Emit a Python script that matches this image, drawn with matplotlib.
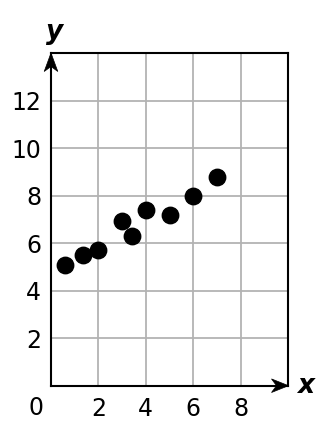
import matplotlib
matplotlib.use("Agg")
import matplotlib.pyplot as plt
from matplotlib.patches import Polygon
from matplotlib.transforms import ScaledTranslation

x_vals = [0.6, 1.35, 2.0, 3.0, 3.4, 4.0, 5.0, 6.0, 7.0]
y_vals = [5.1, 5.5, 5.7, 6.95, 6.3, 7.4, 7.2, 8.0, 8.8]
x_ticks = [2, 4, 6, 8]
y_ticks = [2, 4, 6, 8, 10, 12]
grid_x = [0, 2, 4, 6, 8, 10]
grid_y = [0, 2, 4, 6, 8, 10, 12, 14]

plt.rcParams['font.family'] = ['DejaVu Sans']

fig = plt.figure(figsize=(3.26, 4.30), dpi=100)
ax = fig.add_axes([51/326, (430-385.7)/430, 237/326, (385.7-53)/430])
ax.set_xlim(grid_x[0], grid_x[-1])
ax.set_ylim(grid_y[0], grid_y[-1])

for g in grid_x[1:-1]:
    ax.axvline(g, color='#b3b3b3', lw=1.3, zorder=1)
for g in grid_y[1:-1]:
    ax.axhline(g, color='#b3b3b3', lw=1.3, zorder=1)

ax.scatter(x_vals, y_vals, s=140, color='black', zorder=5, clip_on=False)

for side in ['left', 'bottom', 'top', 'right']:
    ax.spines[side].set_linewidth(1.5)
    ax.spines[side].set_color('black')
    ax.spines[side].set_zorder(3)

# arrowheads (shape in inches, anchored at data points)
up_shape = [(0, 0), (-0.068, -0.185), (0, -0.135), (0.068, -0.185)]
right_shape = [(0.005, 0), (-0.165, 0.068), (-0.115, 0), (-0.165, -0.068)]
t_up = fig.dpi_scale_trans + ScaledTranslation(grid_x[0], grid_y[-1], ax.transData)
t_right = fig.dpi_scale_trans + ScaledTranslation(grid_x[-1], grid_y[0], ax.transData)
ax.add_patch(Polygon(up_shape, closed=True, transform=t_up, facecolor='black',
                     edgecolor='black', lw=0.5, clip_on=False, zorder=6))
ax.add_patch(Polygon(right_shape, closed=True, transform=t_right, facecolor='black',
                     edgecolor='black', lw=0.5, clip_on=False, zorder=6))

ax.set_xticks(x_ticks)
ax.set_yticks(y_ticks)
ax.tick_params(length=0, labelsize=17, pad=8)
ax.tick_params(axis='y', pad=7)

ax.annotate('0', xy=(0, 0), xytext=(-15, -22), textcoords='offset pixels',
            ha='center', va='center', fontsize=17, annotation_clip=False)

fig.text(55/326, 1 - 32/430, 'y', ha='center', va='center', fontsize=19,
         fontweight='bold', fontstyle='italic')
fig.text(306/326, 1 - 386/430, 'x', ha='center', va='center', fontsize=19,
         fontweight='bold', fontstyle='italic')

fig.savefig('out.png', dpi=100, facecolor='white')
